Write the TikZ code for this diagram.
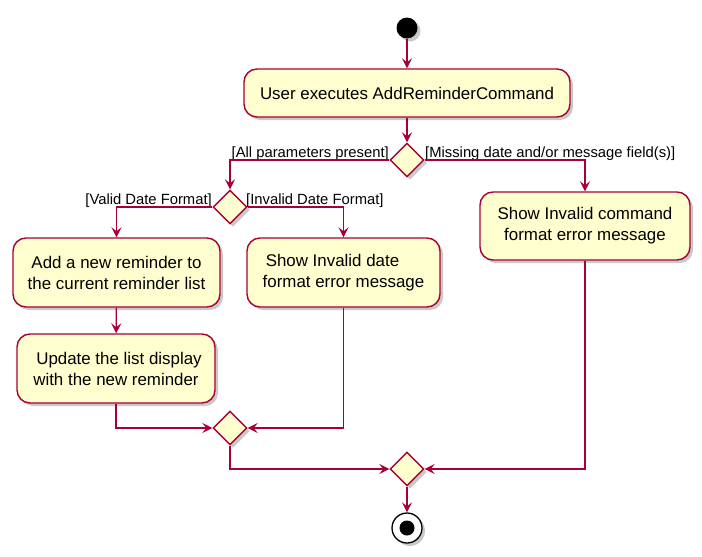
\documentclass[tikz,border=0pt]{standalone}
\usepackage{fontspec}
\setmainfont{Liberation Sans}
\usetikzlibrary{arrows.meta,shapes.geometric,shadows}
\definecolor{pborder}{HTML}{A80036}
\definecolor{pfill}{HTML}{FEFECE}
\begin{document}
\begin{tikzpicture}[x=1pt,y=-1pt,
  shad/.style={drop shadow={shadow xshift=3pt,shadow yshift=-3pt,opacity=0.3,fill=black!70}},
  act/.style={draw=pborder,fill=pfill,line width=1.4pt,rounded corners=13pt,
    font=\fontsize{16.9}{21}\selectfont,align=center,inner sep=0pt,shad},
  dec/.style={diamond,draw=pborder,fill=pfill,line width=1.4pt,inner sep=0pt,
    minimum width=34pt,minimum height=34pt,shad},
  lbl/.style={font=\fontsize{14.8}{17}\selectfont,inner sep=0pt},
  arr/.style={draw=pborder,line width=1.3pt,-{Stealth[length=10pt,width=10pt,inset=4pt]}},
  ln/.style={draw=pborder,line width=1.3pt}]
\useasboundingbox (0,0) rectangle (702,557);
\node[circle,fill=black,minimum size=21pt,inner sep=0pt,shad] (start) at (407,28) {};
\node[act,minimum width=326pt,minimum height=48pt] (cmd) at (407,93) {User executes AddReminderCommand};
\node[dec] (d1) at (407,160) {};
\node[dec] (d2) at (230,207) {};
\node[act,minimum width=207pt,minimum height=69pt] (add) at (116.5,272.5) {Add a new reminder to\\the current reminder list};
\node[act,minimum width=198pt,minimum height=69pt] (upd) at (116,368.5) {\hspace{6pt}Update the list display\\with the new reminder};
\node[act,minimum width=193pt,minimum height=69pt] (sdate) at (343.5,272.5) {Show Invalid date\hspace{22pt}\mbox{}\\format error message};
\node[act,minimum width=210pt,minimum height=68pt] (scmd) at (585,226) {Show Invalid command\\format error message};
\node[dec] (m1) at (230,428) {};
\node[dec] (m2) at (407,469) {};
\node[circle,draw=black,line width=1.3pt,fill=white,minimum size=30pt,inner sep=0pt,shad] (stop) at (407,528) {};
\node[circle,fill=black,minimum size=15pt,inner sep=0pt] (stopin) at (stop.center) {};

\node[lbl,anchor=base east] (l1) at (389,157) {[All parameters present]};
\node[lbl,anchor=base west] (l2) at (425,157) {[Missing date and/or message field(s)]};
\node[lbl,anchor=base east] (l3) at (212,204) {[Valid Date Format]};
\node[lbl,anchor=base west] (l4) at (246,204) {[Invalid Date Format]};

\draw[arr] (start) -- (cmd);
\draw[arr] (cmd) -- (d1);
\draw[arr] (d1.west) -| (d2.north);
\draw[arr] (d1.east) -| (scmd.north);
\draw[arr] (d2.west) -| (add.north);
\draw[arr] (d2.east) -| (sdate.north);
\draw[arr] (add) -- (upd);
\draw[arr] (upd.south) |- (m1.west);
\draw[arr] (sdate.south) |- (m1.east);
\draw[arr] (m1.south) |- (m2.west);
\draw[arr] (scmd.south) |- (m2.east);
\draw[arr] (m2) -- (stop);
\end{tikzpicture}
\end{document}
